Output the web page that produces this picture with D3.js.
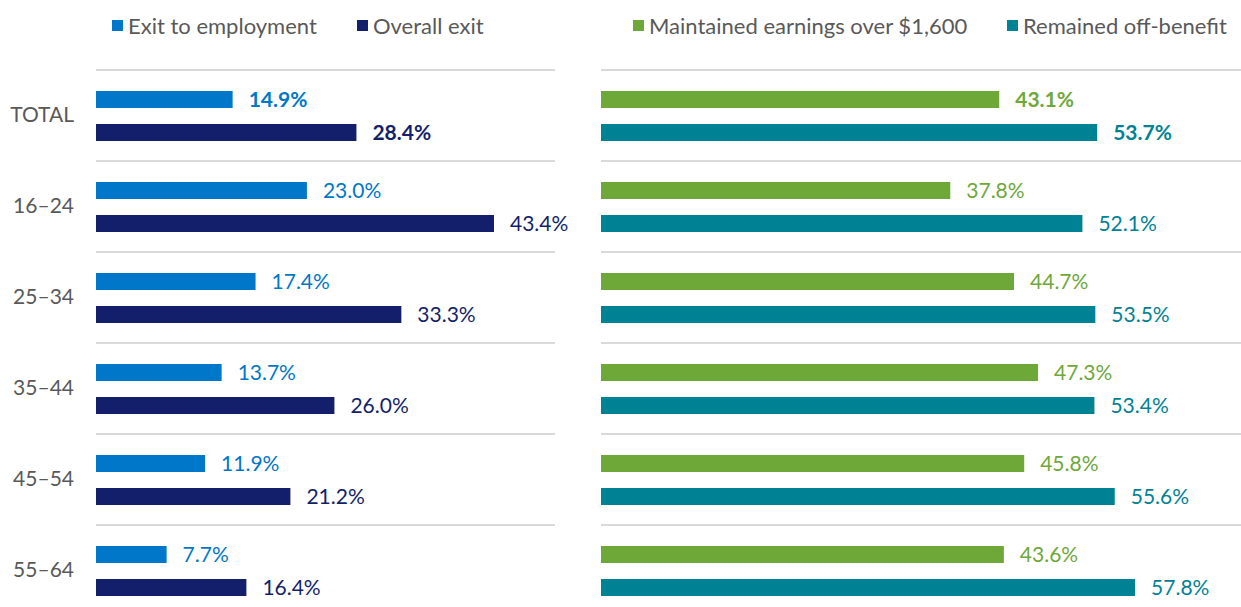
<!DOCTYPE html>
<meta charset="utf-8">
<script src="https://d3js.org/d3.v7.min.js"></script>
<style>
    body { margin: 0; background: #fff; }
    text { font-family: Lato, "Open Sans", sans-serif; }
</style>
<div id="vis"></div>
<script>
    // data
    var groups = ["TOTAL", "16–24", "25–34", "35–44", "45–54", "55–64"];
    var exitEmployment = [14.9, 23.0, 17.4, 13.7, 11.9, 7.7];
    var overallExit = [28.4, 43.4, 33.3, 26.0, 21.2, 16.4];
    var maintainedEarnings = [43.1, 37.8, 44.7, 47.3, 45.8, 43.6];
    var remainedOff = [53.7, 52.1, 53.5, 53.4, 55.6, 57.8];
    var leftLegend = ["Exit to employment", "Overall exit"];
    var rightLegend = ["Maintained earnings over $1,600", "Remained off-benefit"];

    var col = { lblue: "#0077C8", navy: "#141F6B", green: "#6EA839", teal: "#008295", grid: "#D9D9D9", txt: "#595959" };

    var W = 1241, H = 607;
    var svg = d3.select("#vis").append("svg")
        .attr("width", W).attr("height", H);

    // band per group
    var y = d3.scaleBand()
        .domain(groups)
        .range([70, 70 + 91 * groups.length]);

    // x scales for each panel
    var xL = d3.scaleLinear().domain([0, 50]).range([96, 96 + 458.5]);
    var xR = d3.scaleLinear().domain([0, 60]).range([601, 601 + 554.4]);

    var barH = 17;
    var off1 = 21, off2 = 54;

    // gridlines
    function grid(x0, x1) {
        svg.append("g").selectAll("line")
            .data(groups)
            .enter().append("line")
            .attr("x1", x0).attr("x2", x1)
            .attr("y1", function (d) { return y(d); })
            .attr("y2", function (d) { return y(d); })
            .attr("stroke", col.grid)
            .attr("stroke-width", 2);
    }
    grid(96, 555);
    grid(601, 1241);

    // category labels
    svg.append("g").selectAll("text")
        .data(groups)
        .enter().append("text")
        .attr("x", 74)
        .attr("y", function (d) { return y(d) + 45; })
        .attr("dy", "0.35em")
        .attr("text-anchor", "end")
        .style("font-size", "21px")
        .style("fill", col.txt)
        .text(function (d) { return d; });

    function series(vals, x, off, color) {
        var g = svg.append("g");
        g.selectAll("rect")
            .data(vals)
            .enter().append("rect")
            .attr("x", x(0))
            .attr("y", function (d, i) { return y(groups[i]) + off; })
            .attr("width", function (d) { return x(d) - x(0); })
            .attr("height", barH)
            .attr("fill", color);
        g.selectAll("text")
            .data(vals)
            .enter().append("text")
            .attr("x", function (d) { return x(d) + 16; })
            .attr("y", function (d, i) { return y(groups[i]) + off + barH / 2; })
            .attr("dy", "0.36em")
            .style("font-size", "21px")
            .style("font-weight", function (d, i) { return i === 0 ? "bold" : "normal"; })
            .style("fill", color)
            .text(function (d) { return d.toFixed(1) + "%"; });
    }
    series(exitEmployment, xL, off1, col.lblue);
    series(overallExit, xL, off2, col.navy);
    series(maintainedEarnings, xR, off1, col.green);
    series(remainedOff, xR, off2, col.teal);

    // legends
    function legend(items, xs, colors) {
        var g = svg.append("g");
        items.forEach(function (t, i) {
            g.append("rect")
                .attr("x", xs[i]).attr("y", 20)
                .attr("width", 11).attr("height", 11)
                .attr("fill", colors[i]);
            g.append("text")
                .attr("x", xs[i] + 16).attr("y", 26)
                .attr("dy", "0.35em")
                .style("font-size", "22px")
                .style("fill", col.txt)
                .text(t);
        });
    }
    legend(leftLegend, [112, 357], [col.lblue, col.navy]);
    legend(rightLegend, [633, 1007], [col.green, col.teal]);
</script>
